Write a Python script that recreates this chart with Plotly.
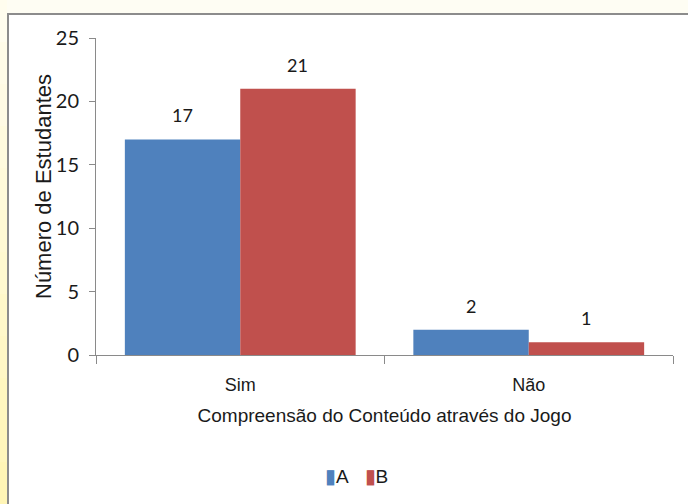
import plotly.graph_objects as go

# Survey results: understanding of the content through the game
categories = ["Sim", "Não"]
series_names = ["A", "B"]
values_a = [17, 2]
values_b = [21, 1]
y_ticks = [0, 5, 10, 15, 20, 25]

blue = "#4F81BD"
red = "#C0504D"
axis_gray = "#8A8A8A"
text_color = "#1a1a1a"
sans = "Liberation Sans, Arial, sans-serif"
digits = "Lato, Carlito, sans-serif"

W, H = 688, 504
ML, MR, MT, MB = 96, 15, 38, 149
PW, PH = W - ML - MR, H - MT - MB


def px_x(x):
    return (x - ML) / PW


def px_y(y):
    return (H - MB - y) / PH


fig = go.Figure()
for name, vals, col in [(series_names[0], values_a, blue), (series_names[1], values_b, red)]:
    fig.add_trace(go.Bar(
        name=name, x=categories, y=vals, marker=dict(color=col, line=dict(width=0)),
        showlegend=False,
    ))

# value labels above each bar
annotations = []
for vals, shift in [(values_a, -57.5), (values_b, 57.5)]:
    for cat, v in zip(categories, vals):
        annotations.append(dict(
            x=cat, y=v, xref="x", yref="y", text=str(v), showarrow=False,
            xshift=shift, yshift=11, yanchor="bottom",
            font=dict(family=digits, size=18, color=text_color),
        ))

# compact legend: coloured key followed by the series name
legend_text = "&nbsp;&nbsp;&nbsp;".join(
    f'<span style="color:{c};font-size:20px">▮</span>{n}'
    for n, c in zip(series_names, [blue, red])
)
annotations.append(dict(
    x=px_x(356), y=px_y(476), xref="paper", yref="paper", showarrow=False,
    xanchor="center", yanchor="middle", text=legend_text,
    font=dict(family=sans, size=19, color=text_color),
))

# y-axis title placed as a rotated label
annotations.append(dict(
    x=px_x(43), y=px_y(187), xref="paper", yref="paper", showarrow=False,
    xanchor="center", yanchor="middle", textangle=-90,
    text="Número de Estudantes",
    font=dict(family=sans, size=22, color=text_color),
))

# background: pale yellow strip on the left, white framed chart area
shapes = []
bands = 12
for k in range(bands):
    y0 = H * k / bands
    y1 = H * (k + 1) / bands
    t = (k + 0.5) / bands
    g = int(round(253 - 8 * t))
    b = int(round(240 - 60 * t))
    shapes.append(dict(
        type="rect", xref="paper", yref="paper", layer="below",
        x0=px_x(0), x1=px_x(7), y0=px_y(y1), y1=px_y(y0),
        fillcolor=f"rgb(255,{g},{b})", line=dict(width=0),
    ))
shapes.append(dict(
    type="rect", xref="paper", yref="paper", layer="below",
    x0=px_x(8), x1=px_x(700), y0=px_y(520), y1=px_y(14),
    fillcolor="white", line=dict(color="#8C8C8C", width=2),
))

fig.update_layout(
    width=W, height=H,
    margin=dict(l=ML, r=MR, t=MT, b=MB, autoexpand=False),
    paper_bgcolor="#FEFDF3",
    plot_bgcolor="white",
    barmode="group",
    bargap=0.2,
    bargroupgap=0,
    showlegend=False,
    shapes=shapes,
    annotations=annotations,
    xaxis=dict(
        type="category",
        showline=True, linecolor=axis_gray, linewidth=1,
        ticks="outside", tickson="boundaries", ticklen=8, tickcolor=axis_gray,
        showgrid=False,
        tickfont=dict(family=sans, size=18, color=text_color),
        ticklabelstandoff=13,
        title=dict(
            text="Compreensão do Conteúdo através do Jogo",
            font=dict(family=sans, size=19, color=text_color),
            standoff=15,
        ),
        automargin=False,
    ),
    yaxis=dict(
        range=[0, 25], tickvals=y_ticks,
        showline=True, linecolor=axis_gray, linewidth=1,
        ticks="outside", ticklen=6, tickcolor=axis_gray,
        showgrid=False, zeroline=False,
        tickfont=dict(family=digits, size=20, color=text_color),
        ticklabelstandoff=6,
        automargin=False,
    ),
)

fig.write_html("out.html")
